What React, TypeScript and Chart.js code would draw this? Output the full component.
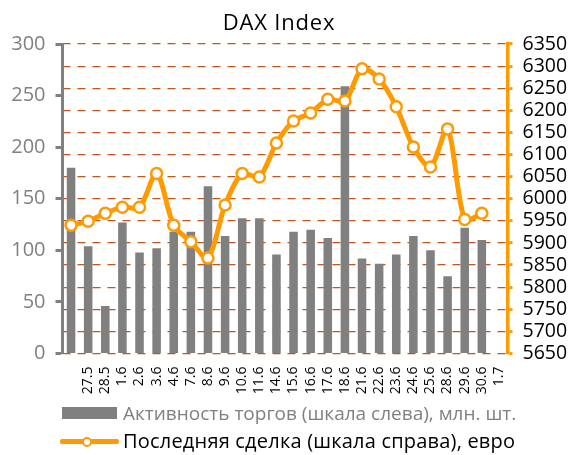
import React, { useEffect, useRef } from 'react';
import { Chart, registerables } from 'chart.js';

Chart.register(...registerables);

// ---- data ----
const dates = ['27.5', '28.5', '1.6', '2.6', '3.6', '4.6', '7.6', '8.6', '9.6', '10.6', '11.6', '14.6', '15.6', '16.6', '17.6', '18.6', '21.6', '22.6', '23.6', '24.6', '25.6', '28.6', '29.6', '30.6', '1.7'];
const volume = [180, 104, 46, 127, 98, 102, 118, 118, 162, 114, 131, 131, 96, 118, 120, 112, 259, 92, 87, 96, 114, 100, 75, 122, 110];
const price = [5940, 5949, 5967, 5981, 5981, 6057, 5940, 5903, 5866, 5986, 6057, 6049, 6126, 6176, 6194, 6225, 6221, 6294, 6271, 6208, 6117, 6072, 6158, 5953, 5967];
const leftMin = 0;
const leftMax = 300;
const leftStep = 50;
const rightMin = 5650;
const rightMax = 6350;
const rightStep = 50;
const titleText = 'DAX Index';
const volumeLabel = 'Активность торгов (шкала слева), млн. шт.';
const priceLabel = 'Последняя сделка (шкала справа), евро';

const FONT = "'Open Sans', sans-serif";
const GRAY = '#808080';
const ORANGE = '#FF9A00';
const GRID = '#C0561E';

export default function App() {
  const canvasRef = useRef<HTMLCanvasElement | null>(null);

  useEffect(() => {
    if (!canvasRef.current) return;
    const labels = [...dates, ''];
    const chart = new Chart(canvasRef.current, {
      type: 'bar',
      data: {
        labels,
        datasets: [
          {
            type: 'line',
            label: priceLabel,
            data: price,
            yAxisID: 'y1',
            borderColor: ORANGE,
            borderWidth: 5,
            tension: 0.3,
            pointRadius: 5.5,
            pointBorderWidth: 2.5,
            pointBackgroundColor: '#ffffff',
            pointBorderColor: ORANGE,
            order: 0,
          } as any,
          {
            type: 'bar',
            label: volumeLabel,
            data: volume,
            yAxisID: 'y',
            backgroundColor: GRAY,
            barPercentage: 0.5,
            categoryPercentage: 1,
            order: 1,
          },
        ],
      },
      options: {
        responsive: false,
        animation: false,
        devicePixelRatio: 1,
        layout: { padding: { left: 0, right: 0, top: 44, bottom: 0 } },
        plugins: {
          legend: { display: false },
          tooltip: { enabled: false },
          title: { display: false },
        },
        scales: {
          x: {
            type: 'category',
            offset: true,
            grid: { display: false, drawTicks: false },
            border: { display: false },
            ticks: {
              autoSkip: false,
              maxRotation: 90,
              minRotation: 90,
              labelOffset: 17,
              padding: 13,
              color: '#000',
              font: { family: FONT, size: 14 },
            },
            afterFit: (s: any) => {
              s.height = 101.5;
            },
          },
          y: {
            position: 'left',
            min: leftMin,
            max: leftMax,
            ticks: {
              stepSize: leftStep,
              autoSkip: false,
              color: GRAY,
              padding: 10,
              font: { family: FONT, size: 20, lineHeight: 1 },
              callback: (v: any) => String(v),
            },
            grid: {
              drawOnChartArea: false,
              drawTicks: true,
              tickLength: 7,
              tickWidth: 3,
              tickColor: GRAY,
              color: GRAY,
            },
            border: { display: true, color: GRAY, width: 3 },
            afterFit: (s: any) => {
              s.width = 62.5;
            },
          },
          y1: {
            position: 'right',
            min: rightMin,
            max: rightMax,
            ticks: {
              stepSize: rightStep,
              autoSkip: false,
              color: '#000',
              padding: 10,
              font: { family: FONT, size: 19.5, lineHeight: 1 },
              callback: (v: any) => String(v),
            },
            grid: {
              drawOnChartArea: true,
              drawTicks: true,
              tickLength: 5,
              tickWidth: 3,
              tickColor: ORANGE,
              color: GRID,
              lineWidth: 1.2,
            },
            border: { display: true, color: ORANGE, width: 3.5, dash: [8, 7] },
            afterFit: (s: any) => {
              s.width = 64.5;
            },
          },
        },
      },
    });
    return () => chart.destroy();
  }, []);

  return (
    <div style={{ position: 'fixed', left: 0, top: 0, width: 572, height: 455, background: '#fff', fontFamily: FONT, overflow: 'hidden' }}>
      <canvas ref={canvasRef} width={572} height={455} style={{ position: 'absolute', left: 0, top: 0, width: 572, height: 455 }} />
      <div style={{ position: 'absolute', left: 179, width: 200, top: 7, textAlign: 'center', fontSize: 22, letterSpacing: '0.8px', lineHeight: '28px', color: '#000', whiteSpace: 'nowrap' }}>{titleText}</div>
      <div style={{ position: 'absolute', left: 62, top: 407, width: 55, height: 12, background: GRAY }} />
      <div style={{ position: 'absolute', left: 123, top: 400, fontSize: 19, lineHeight: '26px', color: GRAY, whiteSpace: 'nowrap' }}>{volumeLabel}</div>
      <div style={{ position: 'absolute', left: 60, top: 439, width: 59, height: 5, background: ORANGE, borderRadius: 2 }} />
      <div style={{ position: 'absolute', left: 82, top: 436.5, width: 10, height: 10, boxSizing: 'border-box', borderRadius: '50%', border: `2.5px solid ${ORANGE}`, background: '#fff' }} />
      <div style={{ position: 'absolute', left: 123, top: 428, fontSize: 20, letterSpacing: '0.2px', lineHeight: '26px', color: '#000', whiteSpace: 'nowrap' }}>{priceLabel}</div>
    </div>
  );
}
